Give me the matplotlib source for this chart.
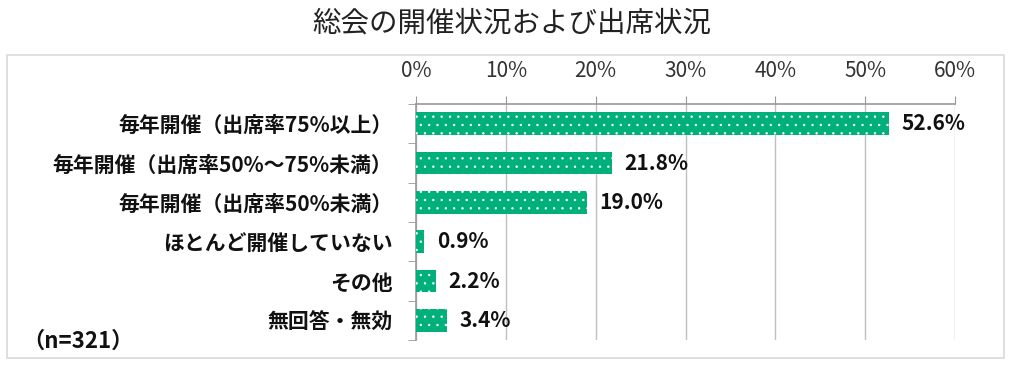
import matplotlib.pyplot as plt
from matplotlib.patches import Rectangle

plt.rcParams['font.family'] = ['Noto Sans CJK JP', 'DejaVu Sans']
plt.rcParams['hatch.color'] = 'white'
plt.rcParams['hatch.linewidth'] = 0.5

# data
categories = ['毎年開催（出席率75%以上）', '毎年開催（出席率50%～75%未満）', '毎年開催（出席率50%未満）',
              'ほとんど開催していない', 'その他', '無回答・無効']
values = [52.6, 21.8, 19.0, 0.9, 2.2, 3.4]
xticks = [0, 10, 20, 30, 40, 50, 60]
title = '総会の開催状況および出席状況'
note = '（n=321）'

W, H = 1024, 368
fig = plt.figure(figsize=(W / 100, H / 100), dpi=100)

# outer frame of the chart area
fig.patches.append(Rectangle((7 / W, 1 - 358 / H), (1004 - 7) / W, (358 - 55) / H,
                             transform=fig.transFigure, fill=False, edgecolor='#d9d9d9', lw=1.2))
fig.text(0.5, 1 - 23 / H, title, ha='center', va='center', fontsize=20.5, color='#222222')

ax = fig.add_axes([416 / W, 1 - 340 / H, (955 - 416) / W, (340 - 104) / H])
y = list(range(len(categories)))
ax.barh(y, values, height=0.58, color='#00b07a', hatch='..', edgecolor='white', linewidth=0, zorder=3)
for yi, v in zip(y, values):
    ax.text(v + 1.4, yi, f'{v:.1f}%', va='center', ha='left', fontsize=15, fontweight='bold', color='#111111')

ax.set_xlim(0, 60)
ax.set_ylim(len(categories) - 0.5, -0.5)
ax.set_xticks(xticks)
ax.set_xticklabels([f'{t}%' for t in xticks], fontsize=15, color='#333333')
ax.xaxis.tick_top()
ax.tick_params(axis='x', length=6, color='#999999', pad=10)
ax.grid(axis='x', color='#bfbfbf', lw=1, zorder=0)

ax.set_yticks(y)
ax.set_yticklabels(categories, fontsize=15, fontweight='bold', color='#111111')
ax.set_yticks([i - 0.5 for i in range(len(categories) + 1)], minor=True)
ax.tick_params(axis='y', which='major', length=0, pad=17)
ax.tick_params(axis='y', which='minor', length=6, color='#999999')

for s in ['right', 'bottom']:
    ax.spines[s].set_visible(False)
for s in ['top', 'left']:
    ax.spines[s].set_color('#999999')
    ax.spines[s].set_linewidth(1.2)

fig.text(22 / W, 1 - 341 / H, note, ha='left', va='center', fontsize=16, fontweight='bold', color='#111111')

fig.savefig('out.png', dpi=100)
